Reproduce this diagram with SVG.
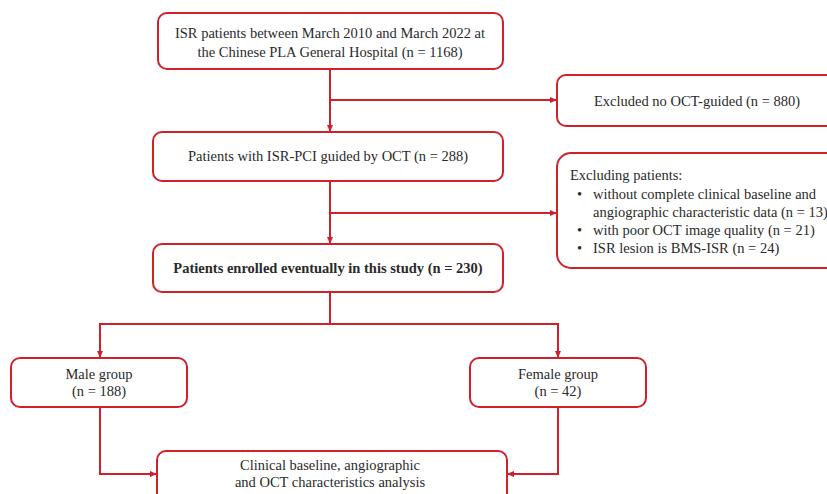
<svg xmlns="http://www.w3.org/2000/svg" width="827" height="494" viewBox="0 0 827 494">
<style>
.box{fill:#fff;stroke:#d0202a;stroke-width:2}
.t{font-family:"Liberation Serif","Times New Roman",serif;font-size:14.5px;fill:#2a2a2a;text-anchor:middle}
.tl{font-family:"Liberation Serif","Times New Roman",serif;font-size:14.5px;fill:#2a2a2a}
.b{font-weight:bold}
.c{fill:none;stroke:#d0202a;stroke-width:2}
</style>
<defs>
<marker id="ah" markerWidth="8" markerHeight="8" refX="6" refY="4" orient="auto" markerUnits="userSpaceOnUse">
<path d="M0,1 L7,4 L0,7 Z" fill="#d0202a"/>
</marker>
</defs>
<rect width="827" height="494" fill="#fff"/>
<g id="connectors">
<path class="c" d="M330,69 V131" marker-end="url(#ah)"/>
<path class="c" d="M330,100 H556" marker-end="url(#ah)"/>
<path class="c" d="M330,181 V243" marker-end="url(#ah)"/>
<path class="c" d="M330,213 H556" marker-end="url(#ah)"/>
<path class="c" d="M330,292 V324 H100 V357" marker-end="url(#ah)"/>
<path class="c" d="M330,324 H558 V357" marker-end="url(#ah)"/>
<path class="c" d="M100,407 V474 H156" marker-end="url(#ah)"/>
<path class="c" d="M558,407 V474 H508" marker-end="url(#ah)"/>
</g>
<g id="n1">
<rect class="box" x="158" y="13" width="345" height="56" rx="9"/>
<text class="t" x="330" y="38">ISR patients between March 2010 and March 2022 at</text>
<text class="t" x="330" y="57">the Chinese PLA General Hospital (n = 1168)</text>
</g>
<g id="n2">
<rect class="box" x="557" y="75" width="285" height="51" rx="9"/>
<text class="t" x="697" y="106">Excluded no OCT-guided (n = 880)</text>
</g>
<g id="n3">
<rect class="box" x="153" y="132" width="350" height="49" rx="9"/>
<text class="t" x="328" y="161">Patients with ISR-PCI guided by OCT (n = 288)</text>
</g>
<g id="n4">
<rect class="box" x="557" y="153" width="285" height="115" rx="14"/>
<text class="tl" x="570" y="180">Excluding patients:</text>
<text class="tl" x="577" y="199">•</text>
<text class="tl" x="593" y="199">without complete clinical baseline and</text>
<text class="tl" x="593" y="217">angiographic characteristic data (n = 13)</text>
<text class="tl" x="577" y="235">•</text>
<text class="tl" x="593" y="235">with poor OCT image quality (n = 21)</text>
<text class="tl" x="577" y="253">•</text>
<text class="tl" x="593" y="253">ISR lesion is BMS-ISR (n = 24)</text>
</g>
<g id="n5">
<rect class="box" x="153" y="244" width="350" height="48" rx="9"/>
<text class="t b" x="328" y="273">Patients enrolled eventually in this study (n = 230)</text>
</g>
<g id="n6">
<rect class="box" x="11" y="358" width="176" height="49" rx="9"/>
<text class="t" x="99" y="379">Male group</text>
<text class="t" x="99" y="396">(n = 188)</text>
</g>
<g id="n7">
<rect class="box" x="470" y="358" width="176" height="49" rx="9"/>
<text class="t" x="558" y="379">Female group</text>
<text class="t" x="558" y="396">(n = 42)</text>
</g>
<g id="n8">
<rect class="box" x="157" y="451" width="350" height="60" rx="9"/>
<text class="t" x="330" y="470">Clinical baseline, angiographic</text>
<text class="t" x="330" y="487">and OCT characteristics analysis</text>
</g>
</svg>
